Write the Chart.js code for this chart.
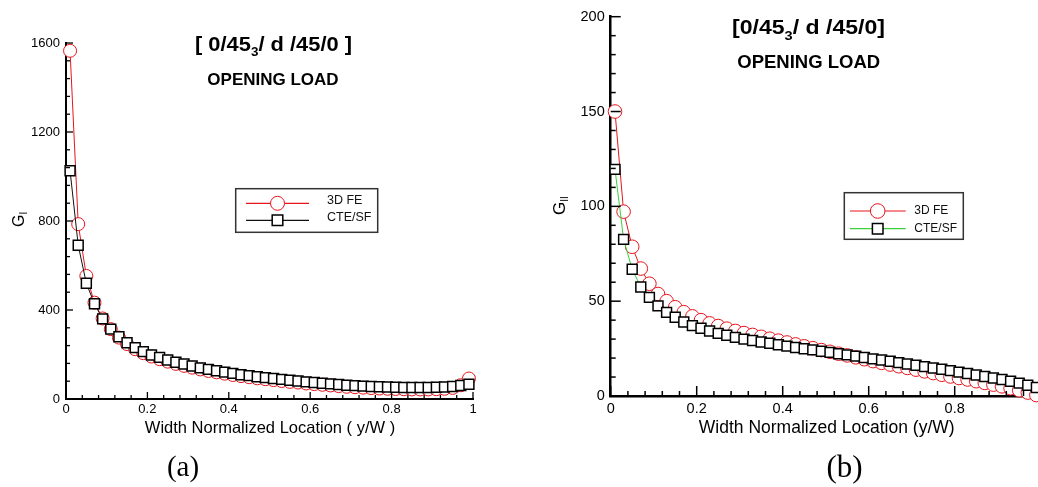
<!DOCTYPE html>
<html>
<head>
<meta charset="utf-8">
<script src="https://cdn.jsdelivr.net/npm/chart.js@4/dist/chart.umd.min.js"></script>
<style>
html, body { margin: 0; padding: 0; background: #fff; overflow: hidden; width: 1038px; height: 487px; }
#chartA { position: absolute; left: 0; top: 0; }
#chartB { position: absolute; left: 520px; top: 0; }
</style>
</head>
<body>
<canvas id="chartA" width="520" height="487"></canvas>
<canvas id="chartB" width="530" height="487"></canvas>
<script>
// y/W locations (same for both panels)
const locations = [0.01, 0.03, 0.05, 0.07, 0.09, 0.11, 0.13, 0.15, 0.17, 0.19,
                   0.21, 0.23, 0.25, 0.27, 0.29, 0.31, 0.33, 0.35, 0.37, 0.39,
                   0.41, 0.43, 0.45, 0.47, 0.49, 0.51, 0.53, 0.55, 0.57, 0.59,
                   0.61, 0.63, 0.65, 0.67, 0.69, 0.71, 0.73, 0.75, 0.77, 0.79,
                   0.81, 0.83, 0.85, 0.87, 0.89, 0.91, 0.93, 0.95, 0.97, 0.99];

// (a) G_I
const feA = [1565, 786, 553, 433, 362, 314, 276, 247, 224, 206,
             191, 179, 168, 158, 149, 141, 133, 126, 120, 114,
             108, 103, 98, 93, 89, 85, 81, 77, 74, 70,
             67, 64, 61, 58, 55, 53, 51, 49, 47, 46,
             45, 44, 43, 43, 43, 44, 46, 50, 62, 92];
const cteA = [1026, 691, 520, 428, 360, 314, 280, 253, 231, 213,
              198, 187, 175, 165, 157, 148, 140, 133, 127, 121,
              115, 109, 105, 100, 96, 92, 88, 84, 81, 77,
              74, 71, 68, 65, 62, 60, 58, 56, 55, 54,
              53, 52, 52, 52, 52, 53, 54, 56, 61, 66];

// (b) G_II
const feB = [150, 97.2, 78.7, 67.2, 59.2, 53.8, 50, 46.8, 44.2, 42,
             40, 38.3, 36.9, 35.5, 34.3, 33.2, 32.2, 31.2, 30.2, 29.2,
             28.2, 27.2, 26.2, 25.2, 24.2, 23.3, 22.3, 21.4, 20.4, 19.4,
             18.4, 17.5, 16.6, 15.7, 14.8, 13.9, 13, 12.1, 11.2, 10.3,
             9.5, 8.7, 7.8, 6.9, 6, 5.1, 4.1, 3, 1.8, 0.5];
const cteB = [119.5, 82.6, 66.8, 57.5, 52, 47.5, 44.1, 41.5, 39, 37.1,
              35.7, 34.3, 33, 32, 30.9, 30, 29.3, 28.5, 27.8, 27,
              26.3, 25.6, 24.9, 24.3, 23.6, 23, 22.3, 21.7, 21, 20.3,
              19.6, 19, 18.3, 17.6, 16.9, 16.2, 15.5, 14.8, 14.1, 13.4,
              12.6, 11.9, 11.1, 10.3, 9.5, 8.7, 7.8, 6.8, 5.7, 4.5];

const xTicksA = ['0', '0.2', '0.4', '0.6', '0.8', '1'];
const yTicksA = ['0', '400', '800', '1200', '1600'];
const xTicksB = ['0', '0.2', '0.4', '0.6', '0.8'];
const yTicksB = ['0', '50', '100', '150', '200'];

const RED = '#e8141c';
const FONT = '"Liberation Sans", Arial, sans-serif';

// texto con subíndice, centrado en cx (opcionalmente estirado a un ancho)
function drawSubText(ctx, parts, cx, y, targetW) {
    let total = 0;
    parts.forEach(p => { ctx.font = p.font; total += ctx.measureText(p.t).width; });
    const k = targetW ? targetW / total : 1;
    ctx.save();
    ctx.translate(cx - total * k / 2, y);
    ctx.scale(k, 1);
    let x = 0;
    parts.forEach(p => {
        ctx.font = p.font;
        ctx.fillText(p.t, x, p.dy || 0);
        x += ctx.measureText(p.t).width;
    });
    ctx.restore();
}

function drawMarker(ctx, style, x, y, r, lw, color) {
    ctx.fillStyle = '#fff';
    ctx.strokeStyle = color;
    ctx.lineWidth = lw;
    ctx.beginPath();
    if (style === 'rect') {
        const s = r * Math.SQRT1_2;
        ctx.rect(x - s, y - s, 2 * s, 2 * s);
    } else {
        ctx.arc(x, y, r, 0, Math.PI * 2);
    }
    ctx.fill();
    ctx.stroke();
}

const decor = {
    id: 'decor',
    afterDraw(chart, args, o) {
        const ctx = chart.ctx;
        const { left, bottom } = chart.chartArea;
        const xs = chart.scales.x, ys = chart.scales.y;
        ctx.save();

        // ticks hacia dentro
        ctx.strokeStyle = '#000';
        ctx.lineWidth = o.tickWidth;
        const nx = Math.round((xs.max - xs.min) / o.xMinor);
        for (let i = 0; i <= nx; i++) {
            const v = xs.min + i * o.xMinor;
            const major = Math.abs(v / o.xMajor - Math.round(v / o.xMajor)) < 1e-6;
            const px = xs.getPixelForValue(v);
            ctx.beginPath();
            ctx.moveTo(px, bottom);
            ctx.lineTo(px, bottom - (major ? o.majorLen : o.minorLen));
            ctx.stroke();
        }
        const ny = Math.round((ys.max - ys.min) / o.yMinor);
        for (let i = 0; i <= ny; i++) {
            const v = ys.min + i * o.yMinor;
            const major = Math.abs(v / o.yMajor - Math.round(v / o.yMajor)) < 1e-6;
            const py = ys.getPixelForValue(v);
            ctx.beginPath();
            ctx.moveTo(left, py);
            ctx.lineTo(left + (major ? o.majorLen : o.minorLen), py);
            ctx.stroke();
        }

        // títulos
        ctx.fillStyle = '#000';
        ctx.textBaseline = 'alphabetic';
        ctx.textAlign = 'left';
        const t = o.title;
        drawSubText(ctx, [
            { t: t.pre, font: 'bold ' + t.size + 'px ' + FONT },
            { t: '3', font: 'bold ' + t.subSize + 'px ' + FONT, dy: t.subDy },
            { t: t.post, font: 'bold ' + t.size + 'px ' + FONT }
        ], t.x, t.y, t.w);
        drawSubText(ctx, [{ t: 'OPENING LOAD', font: 'bold ' + o.sub.size + 'px ' + FONT }], o.sub.x, o.sub.y);

        // título eje x
        drawSubText(ctx, [{ t: o.xTitle.text, font: o.xTitle.size + 'px ' + FONT }], o.xTitle.x, o.xTitle.y);

        // etiqueta (a)/(b)
        drawSubText(ctx, [{ t: o.caption.text, font: o.caption.size + 'px "Liberation Serif", "Times New Roman", serif' }], o.caption.x, o.caption.y);

        // título eje y rotado
        ctx.save();
        ctx.translate(o.yTitle.x, o.yTitle.y);
        ctx.rotate(-Math.PI / 2);
        ctx.font = o.yTitle.size + 'px ' + FONT;
        ctx.fillText('G', 0, 0);
        const gw = ctx.measureText('G').width;
        ctx.font = o.yTitle.subSize + 'px ' + FONT;
        ctx.fillText(o.yTitle.sub, gw, o.yTitle.subDy);
        ctx.restore();

        // leyenda
        const L = o.legend;
        ctx.fillStyle = '#fff';
        ctx.fillRect(L.x, L.y, L.w, L.h);
        ctx.strokeStyle = '#333';
        ctx.lineWidth = 1.5;
        ctx.strokeRect(L.x, L.y, L.w, L.h);
        chart.data.datasets.slice().reverse().forEach((ds, i) => {
            const ry = L.rows[i];
            ctx.strokeStyle = ds.borderColor;
            ctx.lineWidth = 1.2;
            ctx.beginPath();
            ctx.moveTo(L.x1, ry);
            ctx.lineTo(L.x2, ry);
            ctx.stroke();
            drawMarker(ctx, ds.pointStyle, L.mx, ry, ds.pointRadius + 0.5, ds.pointBorderWidth, ds.pointBorderColor);
            ctx.fillStyle = '#111';
            ctx.font = L.font + 'px ' + FONT;
            ctx.textBaseline = 'middle';
            ctx.fillText(ds.label, L.tx, ry - L.textDy);
            ctx.textBaseline = 'alphabetic';
        });
        ctx.restore();
    }
};

function makeChart(id, cfg) {
    const pts = arr => locations.map((x, i) => ({ x: x, y: arr[i] }));
    return new Chart(document.getElementById(id), {
        type: 'line',
        data: {
            datasets: [
                {
                    label: 'CTE/SF', data: pts(cfg.cte), order: 0,
                    borderColor: cfg.cteLine, borderWidth: 1,
                    pointStyle: 'rect', pointRadius: cfg.sqR, pointBorderWidth: 1.5,
                    pointBorderColor: '#000', pointBackgroundColor: '#fff',
                    tension: 0, clip: false
                },
                {
                    label: '3D FE', data: pts(cfg.fe), order: 1,
                    borderColor: RED, borderWidth: 1,
                    pointStyle: 'circle', pointRadius: cfg.ciR, pointBorderWidth: 1,
                    pointBorderColor: RED, pointBackgroundColor: '#fff',
                    tension: 0, clip: false
                }
            ]
        },
        options: {
            responsive: false,
            animation: false,
            devicePixelRatio: 1,
            layout: { padding: cfg.padding },
            plugins: { legend: { display: false }, tooltip: { enabled: false }, decor: cfg.decor },
            scales: {
                x: {
                    type: 'linear', min: 0, max: 1,
                    afterFit: s => { s.height = cfg.xHeight; },
                    grid: { display: true, drawOnChartArea: false, drawTicks: false },
                    border: { display: true, color: '#000', width: cfg.axisW },
                    ticks: {
                        stepSize: 0.2, padding: cfg.xPad, color: '#000',
                        font: { family: FONT, size: cfg.tickSize },
                        callback: (v, i) => cfg.xTicks[i] ?? ''
                    }
                },
                y: {
                    min: 0, max: cfg.yMax,
                    afterFit: s => { s.width = cfg.yWidth; },
                    grid: { display: true, drawOnChartArea: false, drawTicks: false },
                    border: { display: true, color: '#000', width: cfg.axisW },
                    ticks: {
                        stepSize: cfg.yMax / 4, padding: cfg.yPad, color: '#000',
                        font: { family: FONT, size: cfg.tickSize },
                        callback: (v, i) => cfg.yTicks[i] ?? ''
                    }
                }
            }
        },
        plugins: [decor]
    });
}

makeChart('chartA', {
    fe: feA, cte: cteA, cteLine: '#111', yMax: 1600,
    xTicks: xTicksA, yTicks: yTicksA,
    padding: { left: 0, top: 43, right: 47, bottom: 0 },
    xHeight: 88, yWidth: 66, axisW: 2, tickSize: 13, xPad: 3, yPad: 6,
    sqR: 7, ciR: 6.5,
    decor: {
        tickWidth: 1.3, majorLen: 7, minorLen: 4,
        xMinor: 0.04, xMajor: 0.2, yMinor: 80, yMajor: 400,
        title: { pre: '[ 0/45', post: '/ d /45/0 ]', size: 19.5, subSize: 12, subDy: 5, x: 273.5, y: 50.5, w: 157 },
        sub: { size: 17, x: 273, y: 85 },
        xTitle: { text: 'Width Normalized Location ( y/W )', size: 16.5, x: 270, y: 433 },
        caption: { text: '(a)', size: 29, x: 183, y: 476 },
        yTitle: { x: 23.5, y: 227, size: 16, sub: 'I', subSize: 10, subDy: 3 },
        legend: { x: 235.7, y: 188.7, w: 142, h: 43.6, rows: [203.3, 220.3], x1: 246, x2: 309, mx: 277.5, tx: 327, font: 12.5, textDy: 3 }
    }
});

makeChart('chartB', {
    fe: feB, cte: cteB, cteLine: '#3ccf3c', yMax: 200,
    xTicks: xTicksB, yTicks: yTicksB,
    padding: { left: 0, top: 16.7, right: 9.3, bottom: 0 },
    xHeight: 91, yWidth: 90.7, axisW: 2.5, tickSize: 14.5, xPad: 4, yPad: 6,
    sqR: 7, ciR: 6.8,
    decor: {
        tickWidth: 1.5, majorLen: 10, minorLen: 5,
        xMinor: 0.04, xMajor: 0.2, yMinor: 10, yMajor: 50,
        title: { pre: '[0/45', post: '/ d /45/0]', size: 20.5, subSize: 13, subDy: 6, x: 288.5, y: 34, w: 153 },
        sub: { size: 18.5, x: 288.7, y: 68.3 },
        xTitle: { text: 'Width Normalized Location (y/W)', size: 17.5, x: 306.7, y: 433 },
        caption: { text: '(b)', size: 31, x: 324.5, y: 477 },
        yTitle: { x: 45, y: 215, size: 17, sub: 'II', subSize: 10, subDy: 3 },
        legend: { x: 324.3, y: 192.7, w: 119, h: 46.6, rows: [211, 228.7], x1: 330, x2: 385.7, mx: 357.7, tx: 394.3, font: 12, textDy: 0 }
    }
});
</script>
</body>
</html>
